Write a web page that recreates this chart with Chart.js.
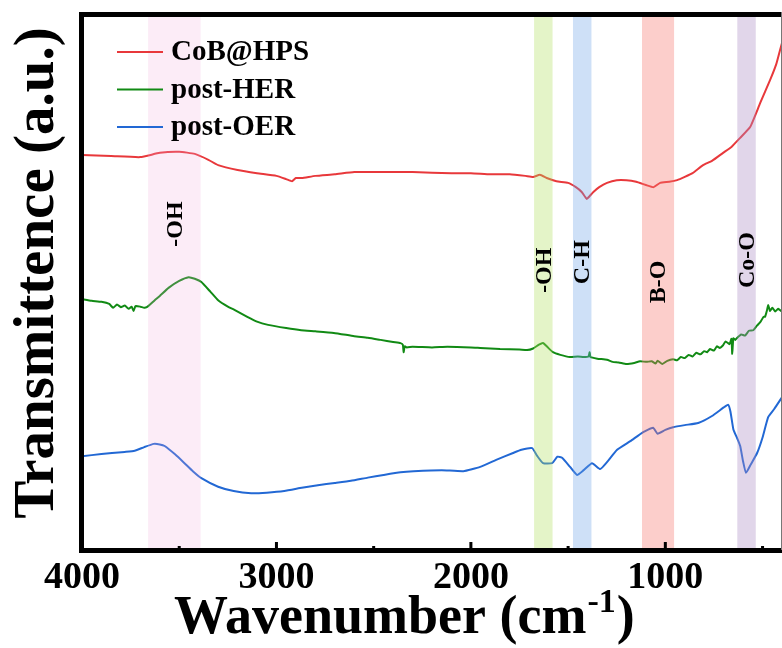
<!DOCTYPE html>
<html>
<head>
<meta charset="utf-8">
<script src="https://cdn.jsdelivr.net/npm/chart.js@4.4.1/dist/chart.umd.min.js"></script>
<style>
  html, body { margin: 0; padding: 0; background: #fff; }
</style>
</head>
<body>
<canvas id="ftir" width="782" height="648"></canvas>
<script>
// CoB@HPS
const cobWn = [4000, 3850, 3700, 3600, 3500, 3420, 3350, 3300, 3200, 3100, 3000, 2950, 2920, 2900, 2870, 2800, 2700, 2600, 2500, 2300, 2100, 2000, 1900, 1800, 1720, 1680, 1645, 1610, 1560, 1500, 1460, 1430, 1404, 1390, 1370, 1340, 1300, 1250, 1200, 1150, 1100, 1060, 1027, 980, 939, 900, 860, 806, 760, 703, 660, 615, 564, 512, 461, 430, 410, 400];
const cobT  = [73.7, 73.5, 73.3, 74.1, 74.3, 73.9, 72.8, 71.8, 70.9, 70.3, 69.8, 69.2, 68.8, 69.4, 69.4, 69.8, 70.1, 70.5, 70.5, 70.5, 70.3, 70.3, 70.1, 70.1, 69.8, 69.6, 70.0, 69.4, 68.8, 68.5, 67.7, 66.8, 65.5, 66.0, 66.8, 67.7, 68.5, 69.0, 69.0, 68.7, 68.1, 67.7, 68.5, 68.7, 69.0, 69.6, 70.3, 71.8, 72.6, 74.1, 75.2, 76.9, 78.9, 83.4, 87.7, 90.6, 93.3, 94.6];

// post-HER
const herWn = [4000, 3950, 3900, 3860, 3840, 3820, 3800, 3780, 3760, 3745, 3735, 3725, 3700, 3680, 3667, 3650, 3626, 3600, 3555, 3500, 3452, 3420, 3386, 3340, 3300, 3250, 3216, 3150, 3100, 3043, 2950, 2873, 2800, 2705, 2600, 2530, 2464, 2400, 2362, 2350, 2346, 2340, 2330, 2300, 2200, 2121, 2000, 1952, 1850, 1750, 1711, 1680, 1650, 1629, 1610, 1578, 1540, 1491, 1450, 1420, 1395, 1389, 1385, 1350, 1300, 1271, 1240, 1200, 1160, 1130, 1097, 1070, 1050, 1040, 1015, 990, 960, 940, 920, 900, 880, 860, 841, 820, 800, 785, 770, 750, 735, 720, 703, 690, 670, 660, 656, 650, 640, 630, 610, 590, 570, 548, 530, 510, 495, 487, 478, 471, 462, 450, 435, 420, 405, 400];
const herT  = [46.8, 46.5, 46.3, 45.9, 45.2, 45.8, 45.3, 45.6, 45.0, 45.4, 44.6, 45.5, 45.4, 45.2, 45.3, 45.8, 46.6, 47.4, 48.9, 50.2, 50.9, 50.6, 50.0, 48.2, 46.6, 45.4, 44.8, 43.5, 42.6, 42.0, 41.4, 41.0, 40.8, 40.5, 39.9, 39.6, 39.2, 38.8, 38.6, 38.3, 36.9, 38.0, 37.8, 37.9, 37.8, 37.9, 37.8, 37.7, 37.5, 37.4, 37.3, 37.6, 38.3, 38.6, 38.0, 36.9, 36.4, 36.0, 36.1, 36.0, 36.1, 36.9, 36.0, 35.7, 35.5, 35.1, 35.0, 34.7, 34.9, 35.2, 35.1, 35.2, 34.8, 35.3, 34.7, 35.3, 35.6, 35.4, 36.0, 35.8, 36.4, 36.1, 36.8, 36.5, 37.1, 36.9, 37.5, 37.2, 38.0, 37.7, 38.2, 38.9, 38.4, 39.4, 36.6, 39.5, 39.2, 39.6, 40.2, 40.0, 40.9, 41.0, 41.8, 42.6, 43.5, 43.5, 44.6, 45.7, 44.6, 45.2, 44.5, 45.0, 44.6, 44.8];

// post-OER
const oerWn = [4000, 3900, 3846, 3780, 3729, 3680, 3631, 3600, 3575, 3520, 3473, 3430, 3386, 3300, 3220, 3130, 3050, 2960, 2870, 2787, 2700, 2617, 2530, 2449, 2362, 2295, 2150, 2039, 1952, 1870, 1783, 1740, 1685, 1660, 1629, 1582, 1555, 1531, 1490, 1454, 1420, 1377, 1335, 1300, 1248, 1180, 1114, 1063, 1040, 1000, 960, 900, 831, 760, 700, 677, 665, 650, 630, 615, 600, 585, 560, 528, 500, 471, 440, 400];
const oerT  = [17.5, 17.9, 18.1, 18.3, 18.5, 19.2, 19.8, 19.7, 19.4, 17.8, 16.2, 14.7, 13.4, 11.8, 11.0, 10.6, 10.7, 11.0, 11.6, 12.1, 12.5, 12.9, 13.5, 14.0, 14.5, 14.7, 14.9, 14.7, 15.5, 16.8, 18.1, 18.7, 19.0, 17.6, 16.2, 16.2, 17.4, 17.2, 15.5, 14.0, 14.9, 16.2, 15.1, 16.4, 18.7, 20.3, 22.0, 22.8, 21.7, 22.4, 22.9, 23.3, 23.7, 25.0, 26.6, 27.1, 25.8, 22.5, 20.8, 19.4, 16.5, 14.4, 16.0, 18.1, 21.0, 24.8, 26.3, 28.5];

const seriesNames  = ['CoB@HPS', 'post-HER', 'post-OER'];
const seriesColors = ['#e8383b', '#118a14', '#2268d4'];

const xTickValues = [1000, 2000, 3000, 4000];
const xMinorValues = [500, 1500, 2500, 3500];

// highlighted absorption bands (cm-1) and their labels
const bandFrom   = [3660, 1675, 1475, 1120, 630];
const bandTo     = [3390, 1580, 1380, 955, 535];
const bandLabels = ['-OH', '-OH', 'C-H', 'B-O', 'Co-O'];
const bandLabelY = [60.8, 52.2, 53.7, 50.0, 54.1];
const bandColors = ['rgba(243,170,220,0.22)', 'rgba(175,222,95,0.34)', 'rgba(110,165,232,0.34)', 'rgba(248,120,110,0.36)', 'rgba(172,140,196,0.36)'];

const FONT = "'Liberation Serif', 'Times New Roman', serif";

function toPoints(wn, t) {
  return wn.map((w, i) => ({ x: w, y: t[i] }));
}

const decor = {
  id: 'decor',
  afterDatasetsDraw(chart) {
    const { ctx, chartArea: a, scales: { x, y } } = chart;
    ctx.save();

    // bands over the spectra
    bandFrom.forEach((f, i) => {
      const x1 = x.getPixelForValue(f);
      const x2 = x.getPixelForValue(bandTo[i]);
      ctx.fillStyle = bandColors[i];
      ctx.fillRect(x1, a.top, x2 - x1, a.bottom - a.top + 2);
    });

    // frame
    ctx.fillStyle = '#000';
    ctx.fillRect(79, 12, 5, a.bottom - 12 + 3);
    ctx.fillRect(79, 12, a.right - 79, 5);
    ctx.fillRect(79, a.bottom - 2, a.right - 79, 5);
    ctx.fillStyle = '#777';
    ctx.fillRect(a.right - 1, 12, 1, a.bottom - 12);

    // inward ticks on the bottom axis
    ctx.fillStyle = '#000';
    xTickValues.forEach(v => {
      const px = x.getPixelForValue(v);
      ctx.fillRect(px - 1.5, a.bottom - 8, 3, 8);
    });
    xMinorValues.forEach(v => {
      const px = x.getPixelForValue(v);
      ctx.fillRect(px - 1.5, a.bottom - 4, 3, 4);
    });

    // band labels, rotated
    ctx.font = 'bold 24px ' + FONT;
    ctx.textAlign = 'center';
    ctx.textBaseline = 'middle';
    bandLabels.forEach((t, i) => {
      const cx = (x.getPixelForValue(bandFrom[i]) + x.getPixelForValue(bandTo[i])) / 2;
      const cy = y.getPixelForValue(bandLabelY[i]);
      ctx.save();
      ctx.translate(cx + 1, cy);
      ctx.rotate(-Math.PI / 2);
      ctx.fillText(t, 0, 0);
      ctx.restore();
    });

    // legend
    ctx.font = 'bold 29px ' + FONT;
    ctx.textAlign = 'left';
    chart.data.datasets.forEach((ds, i) => {
      const ly = 52 + i * 37.5;
      ctx.strokeStyle = ds.borderColor;
      ctx.lineWidth = 2;
      ctx.beginPath();
      ctx.moveTo(117, ly);
      ctx.lineTo(163, ly);
      ctx.stroke();
      ctx.fillStyle = '#000';
      ctx.fillText(ds.label, 171, ly + 1);
    });

    // axis titles
    ctx.fillStyle = '#000';
    ctx.font = 'bold 54px ' + FONT;
    ctx.textBaseline = 'alphabetic';
    const main = 'Wavenumber (cm';
    ctx.textAlign = 'left';
    const w1 = ctx.measureText(main).width;
    ctx.font = 'bold 34px ' + FONT;
    const w2 = ctx.measureText('-1').width;
    let tx = 174;
    ctx.font = 'bold 54px ' + FONT;
    ctx.fillText(main, tx, 633);
    ctx.font = 'bold 34px ' + FONT;
    ctx.fillText('-1', tx + w1 + 1, 612);
    ctx.font = 'bold 54px ' + FONT;
    ctx.fillText(')', tx + w1 + w2 + 2, 633);

    ctx.save();
    ctx.translate(53, 273);
    ctx.rotate(-Math.PI / 2);
    ctx.textAlign = 'center';
    ctx.font = 'bold 57px ' + FONT;
    ctx.fillText('Transmittence (a.u.)', 0, 0);
    ctx.restore();

    ctx.restore();
  }
};

new Chart(document.getElementById('ftir'), {
  type: 'line',
  data: {
    datasets: [
      { label: seriesNames[0], data: toPoints(cobWn, cobT), borderColor: seriesColors[0] },
      { label: seriesNames[1], data: toPoints(herWn, herT), borderColor: seriesColors[1] },
      { label: seriesNames[2], data: toPoints(oerWn, oerT), borderColor: seriesColors[2] }
    ]
  },
  options: {
    responsive: false,
    animation: false,
    layout: { padding: { left: 82, right: 0, top: 14, bottom: 0 } },
    elements: {
      point: { radius: 0 },
      line: { borderWidth: 2, tension: 0.15 }
    },
    plugins: {
      legend: { display: false },
      tooltip: { enabled: false }
    },
    scales: {
      x: {
        type: 'linear',
        reverse: true,
        min: 400,
        max: 4000,
        grid: { display: false },
        border: { display: false },
        afterBuildTicks: s => { s.ticks = xTickValues.map(v => ({ value: v })); },
        afterFit: s => { s.height = 98; },
        ticks: {
          color: '#000',
          padding: -3,
          maxRotation: 0,
          callback: v => String(v),
          font: { family: FONT, size: 38, weight: 'bold' }
        }
      },
      y: {
        display: false,
        min: 0,
        max: 100
      }
    }
  },
  plugins: [decor]
});
</script>
</body>
</html>
